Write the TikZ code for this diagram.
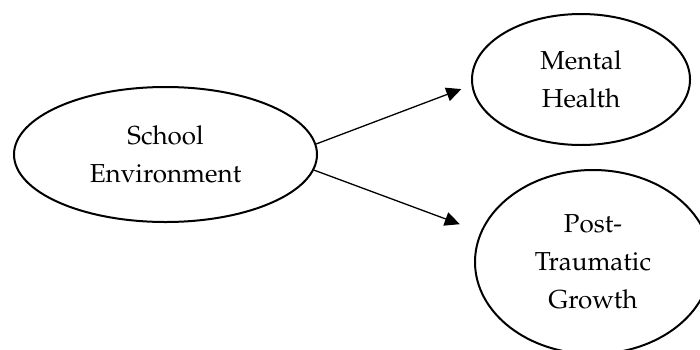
\documentclass[tikz,border=0pt]{standalone}
\usepackage[T1]{fontenc}
\usepackage{mathpazo}
\usepackage{tikz}
\usetikzlibrary{arrows.meta,shapes.geometric}
\tikzset{
  oval/.style={draw,ellipse,line width=1pt,inner sep=0pt,align=center,
               font=\fontsize{13}{19}\selectfont},
  effect/.style={-{Triangle[length=7.5pt,width=7pt]},line width=0.65pt}
}

\begin{document}
\begin{tikzpicture}[x=0.5pt,y=-0.5pt]
  \useasboundingbox (0,0) rectangle (700,349);
  \node[oval,minimum width=151.5pt,minimum height=67.5pt] (school) at (165.5,154.5) {School\\Environment};
  \node[oval,minimum width=109pt,minimum height=65.5pt] (mental) at (581,79.5) {Mental\\Health};
  \node[oval,minimum width=118pt,minimum height=92pt] (growth) at (593,262) {Post-\\Traumatic\\Growth};

  \draw[effect,shorten >=5.4pt] (school.4) -- (mental.183);
  \draw[effect,shorten >=11pt] (school.-6) -- (growth.165);
\end{tikzpicture}
\end{document}
